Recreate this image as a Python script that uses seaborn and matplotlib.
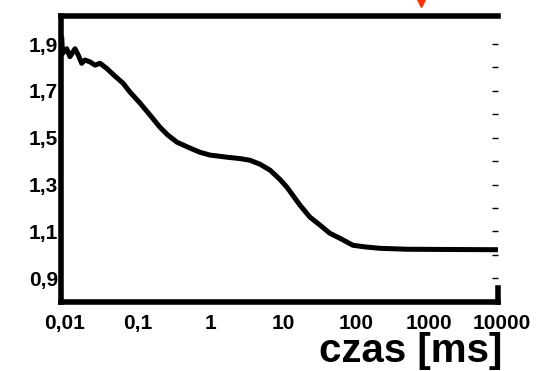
import matplotlib
matplotlib.use("Agg")
import matplotlib.pyplot as plt
import matplotlib.transforms as mtransforms
import seaborn as sns
import pandas as pd

# data (time in ms, signal value)
time_ms = [0.0100, 0.01032, 0.0106, 0.0121, 0.0134, 0.0157, 0.0174, 0.0194, 0.0215,
           0.0252, 0.0296, 0.0346, 0.0428, 0.0556, 0.0716, 0.0893, 0.1225, 0.168,
           0.230, 0.296, 0.394, 0.594, 0.815, 1.117, 1.91, 2.88, 3.95, 5.42, 7.43,
           10.2, 12.7, 19.2, 26.3, 36.1, 49.4, 67.6, 102, 149, 240, 562, 2000, 9770]
signal = [1.90, 1.93, 1.86, 1.88, 1.846, 1.88, 1.853, 1.818, 1.832,
          1.824, 1.81, 1.818, 1.796, 1.763, 1.733, 1.695, 1.648, 1.597,
          1.545, 1.511, 1.481, 1.456, 1.438, 1.426, 1.417, 1.411, 1.404, 1.387, 1.362,
          1.322, 1.289, 1.212, 1.161, 1.127, 1.092, 1.071, 1.041, 1.034, 1.028, 1.024,
          1.023, 1.022]

x_ticks = [0.01, 0.1, 1, 10, 100, 1000, 10000]
x_labels = ["0,01", "0,1", "1", "10", "100", "1000", "10000"]
y_ticks = [0.9, 1.1, 1.3, 1.5, 1.7, 1.9]
y_labels = ["0,9", "1,1", "1,3", "1,5", "1,7", "1,9"]
y_minor = [1.0, 1.2, 1.4, 1.6, 1.8]
marker_time = [870]
axis_title = "czas [ms]"

sns.set_theme(style="white")
plt.rcParams['font.family'] = ['Liberation Sans', 'DejaVu Sans']

df = pd.DataFrame({"t": time_ms, "v": signal})

fig = plt.figure(figsize=(5.45, 3.71), dpi=100)
ax = fig.add_axes([60.7 / 545, (371 - 301.7) / 371, (498 - 60.7) / 545, (301.7 - 15.5) / 371])

sns.lineplot(data=df, x="t", y="v", ax=ax, color="black", linewidth=3.6, sort=False)

ax.set_xscale("log")
ax.set_xlim(0.01, 10000)
ax.set_ylim(0.80, 2.022)
ax.set_xlabel("")
ax.set_ylabel("")

ax.set_xticks(x_ticks)
ax.set_xticklabels(x_labels, fontsize=15, fontweight="bold")
ax.xaxis.set_minor_locator(matplotlib.ticker.NullLocator())
ax.set_yticks(y_ticks)
ax.set_yticklabels(y_labels, fontsize=15, fontweight="bold")
ax.set_yticks(y_minor, minor=True)
ax.tick_params(axis="x", which="both", length=0, pad=9, colors="black")
ax.tick_params(axis="y", which="both", left=False, right=True, direction="in",
               length=4, width=1, color="black", pad=2, labelcolor="black")

shift = mtransforms.ScaledTranslation(4 / 100, 0, fig.dpi_scale_trans)
for lab in ax.get_xticklabels():
    lab.set_transform(lab.get_transform() + shift)

for side in ["left", "top", "bottom", "right"]:
    ax.spines[side].set_color("black")
    ax.spines[side].set_linewidth(4)
ax.spines["right"].set_bounds(0.80, 0.86)

# red marker above the frame
ax.plot(marker_time, [2.077], marker="v", color="#ff3000", markersize=6,
        linestyle="none", clip_on=False)

fig.text(502 / 545, (371 - 362.5) / 371, axis_title, ha="right", va="baseline",
         fontsize=29, fontweight="bold", color="black")

fig.savefig("out.png", dpi=100)
